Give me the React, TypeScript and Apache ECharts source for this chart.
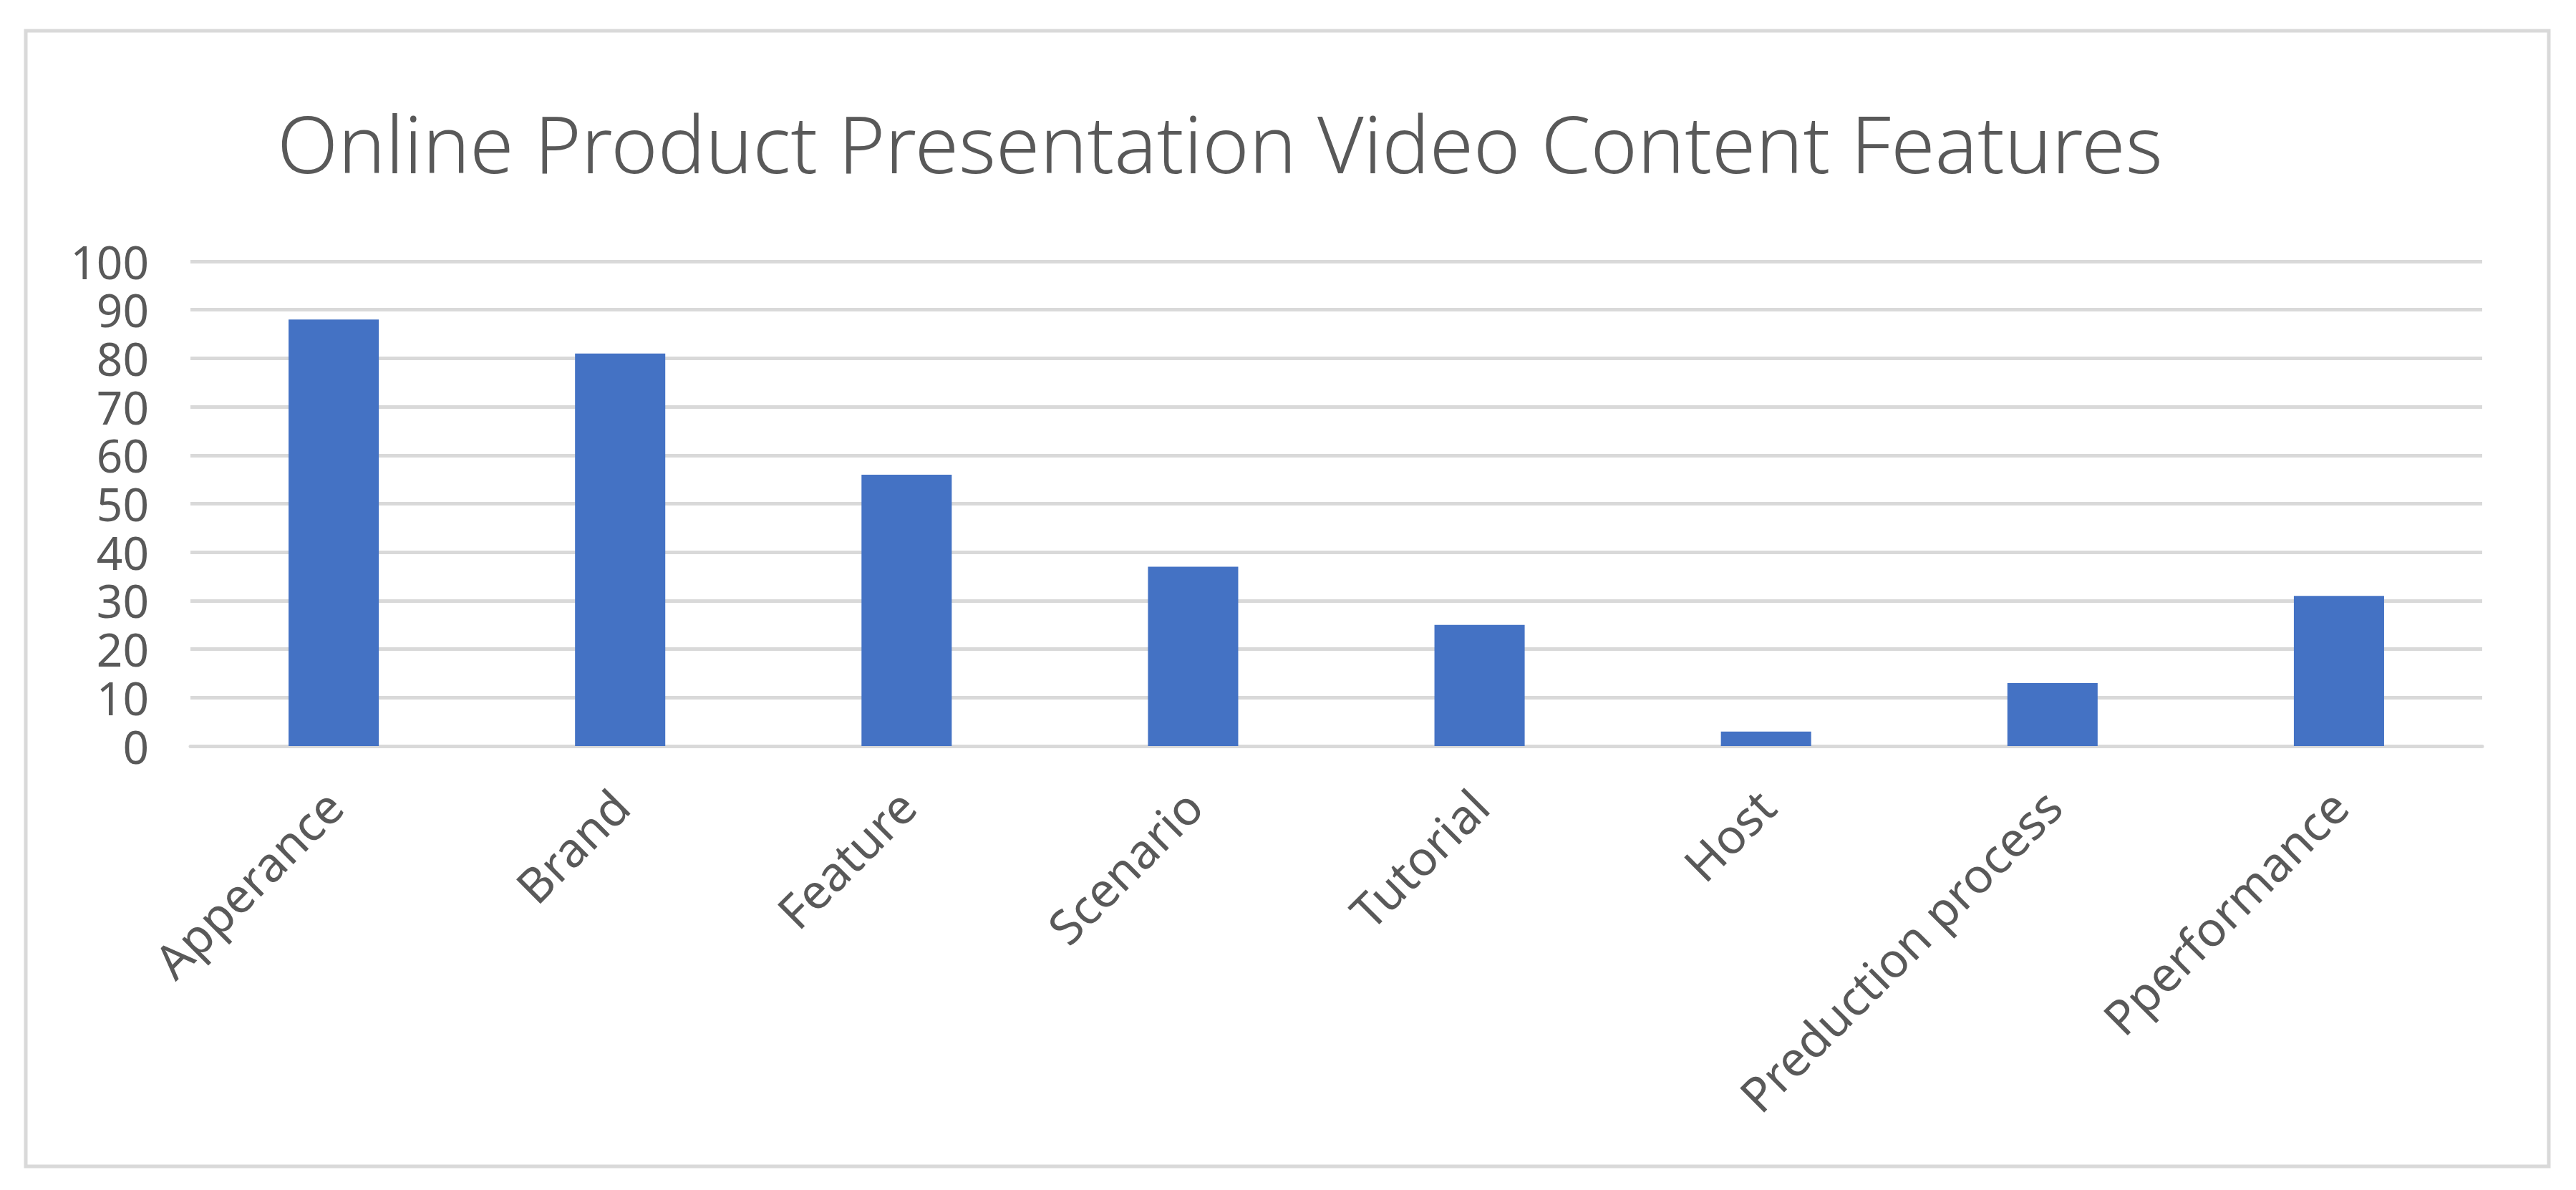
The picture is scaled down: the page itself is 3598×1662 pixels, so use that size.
import React, { useEffect, useRef } from "react";
import * as echarts from "echarts";

const categories = ["Apperance", "Brand", "Feature", "Scenario", "Tutorial", "Host", "Preduction process", "Pperformance"];
const values = [88, 81, 56, 37, 25, 3, 13, 31];
const yTicks = { min: 0, max: 100, interval: 10 };
const titleText = "Online Product Presentation Video Content Features";

export default function App() {
  const ref = useRef<HTMLDivElement>(null);
  useEffect(() => {
    const chart = echarts.init(ref.current!, null, { renderer: "svg" });
    chart.setOption({
      animation: false,
      backgroundColor: "#ffffff",
      title: {
        text: titleText,
        left: 382,
        top: 138,
        textStyle: { fontFamily: "Noto Sans", fontWeight: 300, fontSize: 111, color: "#595959" },
      },
      graphic: [
        {
          type: "rect",
          shape: { x: 36, y: 43, width: 3524, height: 1586 },
          style: { fill: "none", stroke: "#d9d9d9", lineWidth: 5 },
          silent: true,
        },
      ],
      grid: { left: 266, right: 131, top: 365, bottom: 620, containLabel: false },
      xAxis: {
        type: "category",
        data: categories,
        axisLine: { show: true, lineStyle: { color: "#d9d9d9", width: 5 } },
        axisTick: { show: false },
        axisLabel: {
          rotate: 45,
          interval: 0,
          margin: 72,
          color: "#595959",
          fontFamily: "Noto Sans",
          fontSize: 67,
        },
      },
      yAxis: {
        type: "value",
        min: yTicks.min,
        max: yTicks.max,
        interval: yTicks.interval,
        axisLine: { show: false },
        axisTick: { show: false },
        splitLine: { lineStyle: { color: "#d9d9d9", width: 5 } },
        axisLabel: {
          color: "#595959",
          fontFamily: "Noto Sans",
          fontSize: 64,
          lineHeight: 64,
          margin: 58,
          showMinLabel: true,
          showMaxLabel: true,
          hideOverlap: false,
        },
      },
      series: [
        {
          type: "bar",
          data: values,
          barWidth: "31.5%",
          itemStyle: { color: "#4472C4" },
        },
      ],
    });
    return () => chart.dispose();
  }, []);
  return (
    <div
      ref={ref}
      style={{ position: "fixed", left: 0, top: 0, width: 3598, height: 1662 }}
    />
  );
}
